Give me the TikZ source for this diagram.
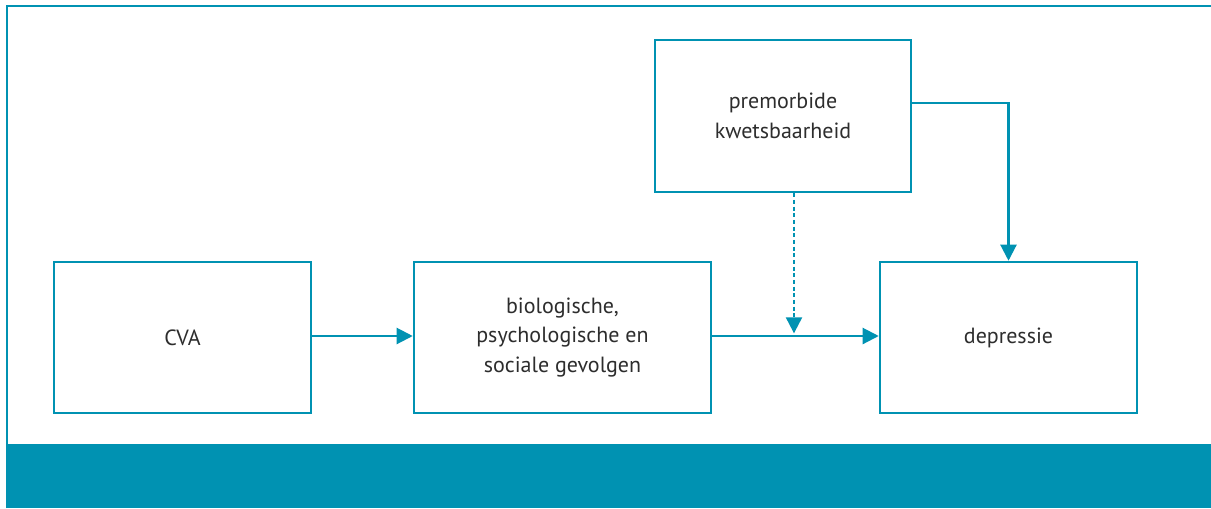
\documentclass[tikz,border=0pt]{standalone}
\usepackage{fontspec}
\setmainfont{PT Sans}
\usetikzlibrary{arrows.meta}
\definecolor{zorgblauw}{RGB}{0,146,178}
\definecolor{tekstgrijs}{RGB}{45,45,45}
\begin{document}
\begin{tikzpicture}[x=0.75pt, y=-0.75pt,
    blok/.style={draw=zorgblauw, line width=1.9pt, align=center, text=tekstgrijs,
                 font=\fontsize{16.5}{22}\selectfont, inner sep=0pt},
    pijl/.style={draw=zorgblauw, line width=1.6pt, -{Triangle[length=12pt,width=12pt]}}]
    \useasboundingbox (0,0) rectangle (1211,508);
    %kader en balk
    \fill[zorgblauw] (8,444) rectangle (1211,508);
    \draw[zorgblauw, line width=2.2pt] (7,508) -- (7,6) -- (1211,6);
    \node[blok, minimum width=257*0.75pt, minimum height=151*0.75pt] (cva) at (182.5,337.5) {CVA};
    \node[blok, minimum width=297*0.75pt, minimum height=151*0.75pt] (gevolgen) at (562.5,337.5) {biologische,\\psychologische en\\sociale gevolgen};
    \node[blok, minimum width=257*0.75pt, minimum height=151*0.75pt] (depressie) at (1008.5,337.5) {depressie};
    \node[blok, minimum width=256*0.75pt, minimum height=152*0.75pt] (premorbide) at (783,116) {premorbide\\kwetsbaarheid};
    \coordinate (knoop) at (794,336);
    \draw[pijl] (cva.east |- knoop) -- (gevolgen.west |- knoop);
    \draw[pijl] (gevolgen.east |- knoop) -- (depressie.west |- knoop);
    \draw[pijl, dash pattern=on 3pt off 2pt] (premorbide.south -| knoop) -- ([yshift=2pt]knoop);
    \draw[pijl] (premorbide.east |- {(0,103)}) -| (depressie.north);
\end{tikzpicture}
\end{document}
